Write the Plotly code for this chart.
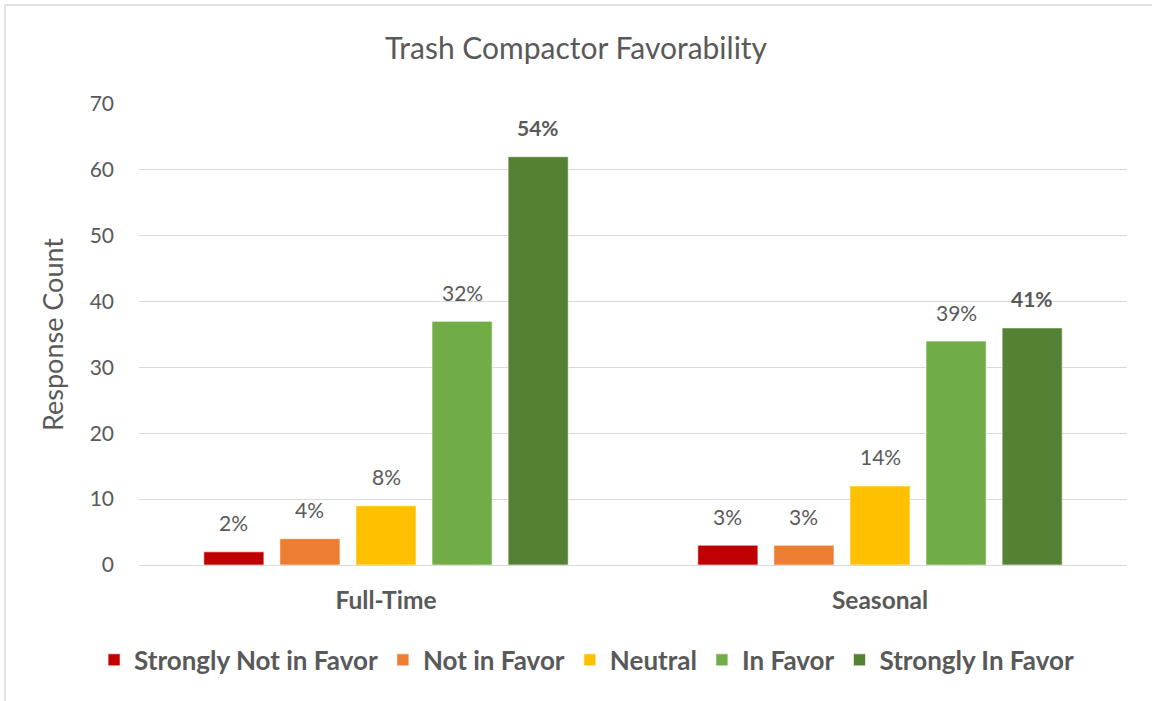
import plotly.graph_objects as go

categories = ["Full-Time", "Seasonal"]
series_names = ["Strongly Not in Favor", "Not in Favor", "Neutral", "In Favor", "Strongly In Favor"]
counts = {
    "Strongly Not in Favor": [2, 3],
    "Not in Favor": [4, 3],
    "Neutral": [9, 12],
    "In Favor": [37, 34],
    "Strongly In Favor": [62, 36],
}
percent_labels = {
    "Strongly Not in Favor": ["2%", "3%"],
    "Not in Favor": ["4%", "3%"],
    "Neutral": ["8%", "14%"],
    "In Favor": ["32%", "39%"],
    "Strongly In Favor": ["54%", "41%"],
}
colors = ["#C00000", "#ED7D31", "#FFC000", "#70AD47", "#548235"]

FONT = "Lato, Carlito, Calibri, sans-serif"
GREY = "#595959"

# bar geometry (px) used to place the value labels over each bar
PLOT_W = 988
BARGAP = 0.23
pitch = PLOT_W / len(categories) * (1 - BARGAP) / len(series_names)

fig = go.Figure()
for i, (name, col) in enumerate(zip(series_names, colors)):
    fig.add_trace(go.Bar(
        x=categories, y=counts[name], name=name,
        marker=dict(color=col, line=dict(color="rgba(255,255,255,0.6)", width=1)),
    ))
    bold = name == "Strongly In Favor"
    for cat, val, lab in zip(categories, counts[name], percent_labels[name]):
        fig.add_annotation(
            x=cat, y=val, xref="x", yref="y",
            text=f"<b>{lab}</b>" if bold else lab,
            showarrow=False, xanchor="center", yanchor="middle",
            xshift=(i - (len(series_names) - 1) / 2) * pitch, yshift=29,
            font=dict(size=21, color=GREY, family=FONT),
        )

# light frame around the whole chart, as in the source image
fig.add_shape(type="rect", xref="paper", yref="paper",
              x0=-0.1356, x1=1.033, y0=-0.304, y1=1.2148,
              line=dict(color="#d9d9d9", width=1.5), layer="below")

fig.update_layout(
    width=1152, height=701,
    title=dict(text="Trash Compactor Favorability", x=0.50, xref="container",
               y=1 - 48 / 701, yref="container", xanchor="center", yanchor="middle",
               font=dict(size=30, color=GREY, family=FONT)),
    barmode="group", bargap=BARGAP, bargroupgap=0.21,
    plot_bgcolor="white", paper_bgcolor="white",
    margin=dict(l=139, r=25, t=104, b=136, autoexpand=False),
    font=dict(family=FONT, color=GREY),
    xaxis=dict(showgrid=False, showline=True, linecolor="#d9d9d9",
               tickfont=dict(size=24.5, color=GREY, family=FONT, weight="bold"),
               ticklabelstandoff=14),
    yaxis=dict(range=[0, 70], dtick=10, showgrid=True, gridcolor="#d9d9d9",
               gridwidth=1, zeroline=False, showline=False,
               tickfont=dict(size=21, color=GREY, family=FONT), ticklabelstandoff=24,
               title=dict(text="Response Count", font=dict(size=27, color=GREY, family=FONT),
                          standoff=18)),
    legend=dict(orientation="h", x=0.453, xanchor="center", y=-0.206, yanchor="middle",
                font=dict(size=26, color=GREY, family=FONT, weight="bold"),
                traceorder="normal"),
    showlegend=True,
)

# drop the default page margin so the figure sits flush with the window
fig.write_html("out.html", config={"displayModeBar": False},
               post_script="document.body.style.margin='0';")
